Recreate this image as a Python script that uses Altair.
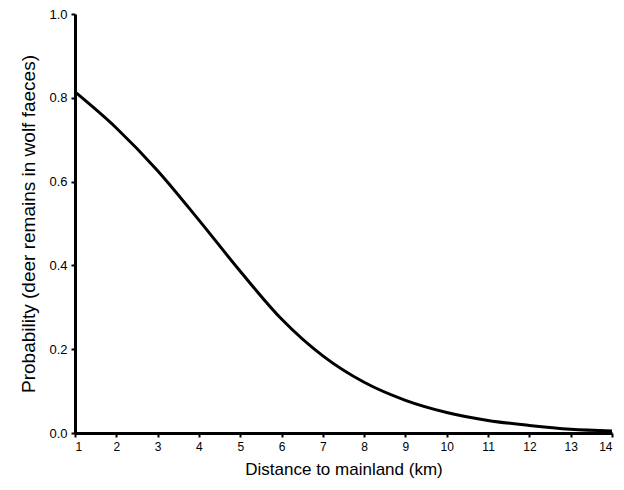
import altair as alt
import pandas as pd

distance = [1, 2, 3, 4, 5, 6, 7, 8, 9, 10, 11, 12, 13, 14]
probability = [0.814, 0.728, 0.626, 0.508, 0.386, 0.272, 0.184, 0.121, 0.078, 0.049, 0.030, 0.018, 0.009, 0.005]

df = pd.DataFrame({"distance": distance, "probability": probability})

chart = alt.Chart(df).mark_line(color="black", strokeWidth=3, interpolate="monotone").encode(
    x=alt.X("distance:Q", title="Distance to mainland (km)",
            scale=alt.Scale(domain=[1, 14], nice=False),
            axis=alt.Axis(values=list(range(1, 15)), format="d",
                          labelFontSize=12, titleFontSize=17, titlePadding=9)),
    y=alt.Y("probability:Q", title="Probability (deer remains in wolf faeces)",
            scale=alt.Scale(domain=[0, 1], nice=False),
            axis=alt.Axis(values=[0, 0.2, 0.4, 0.6, 0.8, 1.0], format=".1f",
                          labelFontSize=13, titleFontSize=19, titlePadding=10)),
).properties(
    width=537, height=419,
    autosize=alt.AutoSizeParams(type="none"),
    padding={"left": 75, "top": 14, "right": 12, "bottom": 57},
).configure_view(stroke=None).configure_axis(
    grid=False,
    domainColor="black", domainWidth=3,
    tickColor="black", tickWidth=2, tickSize=4,
    labelColor="black", labelFont="Liberation Sans",
    titleColor="black", titleFont="Liberation Sans", titleFontWeight="normal",
    labelPadding=4,
)

chart.save("out.html", embed_options={"renderer": "svg", "actions": False})
